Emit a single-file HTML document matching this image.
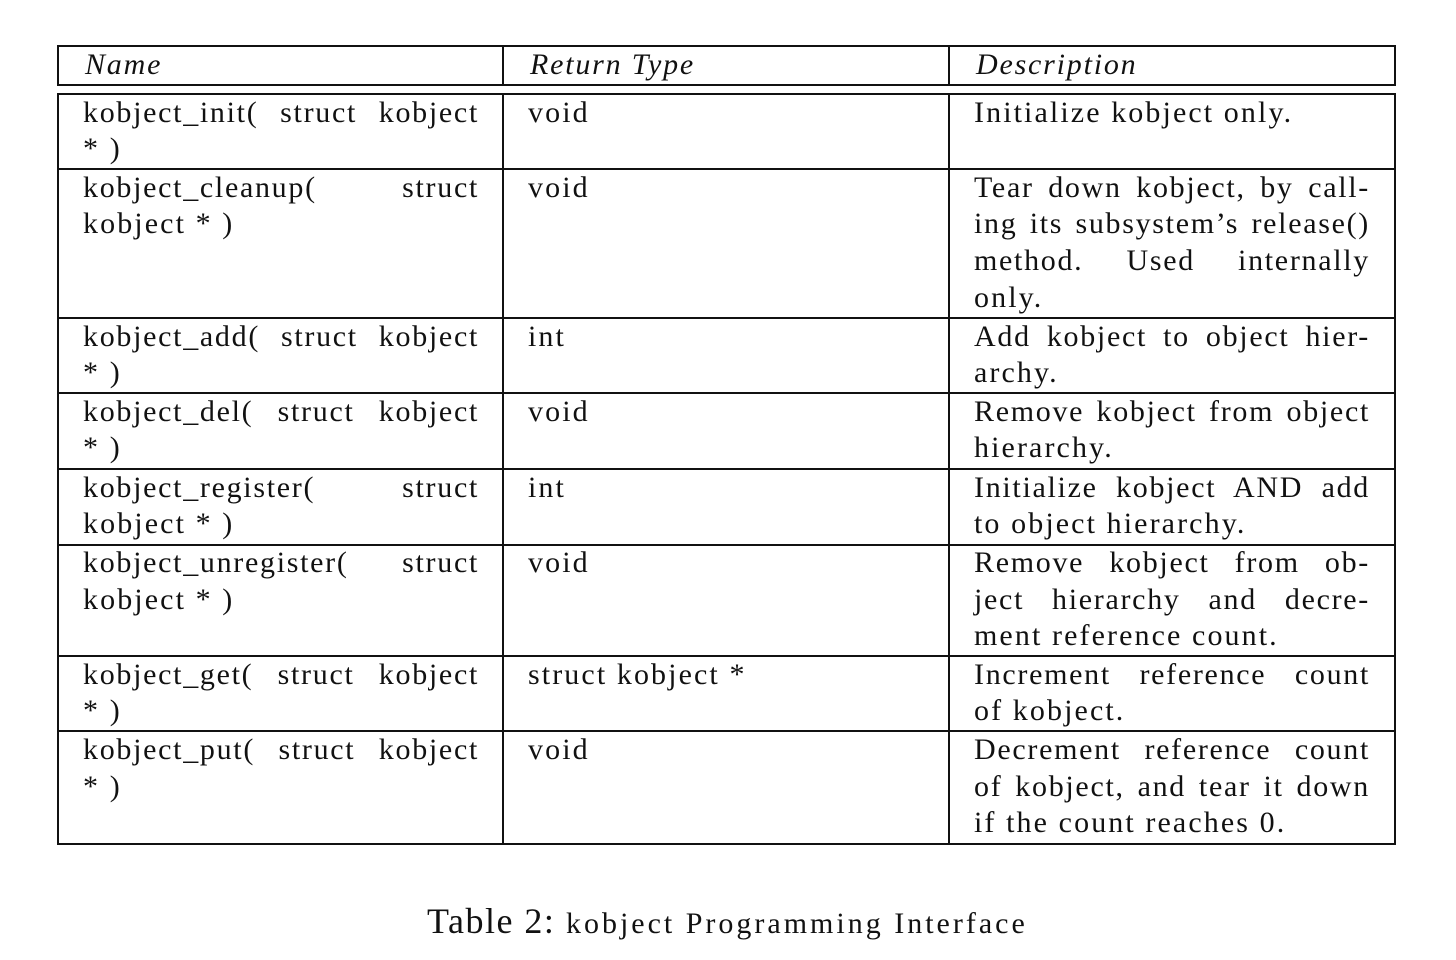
<!DOCTYPE html>
<html><head><meta charset="utf-8">
<style>
html,body{margin:0;padding:0;background:#fff;}
body{width:1456px;height:960px;position:relative;overflow:hidden;font-family:"Liberation Serif",serif;color:#111;}
.box{position:absolute;border:2px solid #111;box-sizing:border-box;}
.h{position:absolute;background:#111;height:2px;}
.v{position:absolute;background:#111;width:2px;}
.t{position:absolute;font-size:30px;line-height:36px;height:36px;white-space:nowrap;letter-spacing:2.1px;}
.j{text-align:justify;text-align-last:justify;white-space:normal;letter-spacing:1.7px;}
.hd{font-style:italic;letter-spacing:1.8px;}
</style></head>
<body>
<div class="box" style="left:57px;top:45px;width:1339px;height:41px;"></div>
<div class="v" style="left:502px;top:45px;height:41px;"></div>
<div class="v" style="left:948px;top:45px;height:41px;"></div>
<div class="t hd" style="left:85px;top:47px;">Name</div>
<div class="t hd" style="left:530px;top:47px;">Return Type</div>
<div class="t hd" style="left:976px;top:47px;">Description</div>

<div class="box" style="left:57px;top:93px;width:1339px;height:752px;"></div>
<div class="v" style="left:502px;top:93px;height:752px;"></div>
<div class="v" style="left:948px;top:93px;height:752px;"></div>
<div id="rows"></div>

<div style="position:absolute;left:427px;top:899px;white-space:nowrap;font-size:36px;line-height:44px;letter-spacing:1.5px;">Table 2: <span style="font-size:30px;letter-spacing:3px;">kobject Programming Interface</span></div>

<script>
const rowBottoms=[169,318,393,469,545,656,731];
const rows=[
 {c:[112,148],n:[["kobject_init( struct kobject",1],["* )",0]],r:"void",d:[["Initialize kobject only.",0]]},
 {c:[187,223,260,297],n:[["kobject_cleanup( struct",1],["kobject * )",0]],r:"void",d:[["Tear down kobject, by call-",1],["ing its subsystem’s release()",1],["method. Used internally",1],["only.",0]]},
 {c:[336,372],n:[["kobject_add( struct kobject",1],["* )",0]],r:"int",d:[["Add kobject to object hier-",1],["archy.",0]]},
 {c:[411,447],n:[["kobject_del( struct kobject",1],["* )",0]],r:"void",d:[["Remove kobject from object",1],["hierarchy.",0]]},
 {c:[487,523],n:[["kobject_register( struct",1],["kobject * )",0]],r:"int",d:[["Initialize kobject AND add",1],["to object hierarchy.",0]]},
 {c:[562,599,635],n:[["kobject_unregister( struct",1],["kobject * )",0]],r:"void",d:[["Remove kobject from ob-",1],["ject hierarchy and decre-",1],["ment reference count.",0]]},
 {c:[674,710],n:[["kobject_get( struct kobject",1],["* )",0]],r:"struct kobject *",d:[["Increment reference count",1],["of kobject.",0]]},
 {c:[749,786,822],n:[["kobject_put( struct kobject",1],["* )",0]],r:"void",d:[["Decrement reference count",1],["of kobject, and tear it down",1],["if the count reaches 0.",0]]}
];
const host=document.getElementById('rows');
rowBottoms.forEach((y,i)=>{
 const l=document.createElement('div');
 l.className='h';
 l.style.cssText='left:57px;width:1339px;top:'+(y-1)+'px;';
 
 
 host.appendChild(l);
});
function line(x,cy,txt,just,name){
 const d=document.createElement('div');
 d.className='t'+(just?' j':'');
 d.style.left=x+'px';d.style.top=(cy-17)+'px';d.style.width='396px';
 d.textContent=txt;
 
 
 host.appendChild(d);
}
rows.forEach((r,i)=>{
 r.n.forEach((t,k)=>line(83,r.c[k],t[0],t[1],'function-name-cell'));
 line(528,r.c[0],r.r,0,'return-type-cell');
 r.d.forEach((t,k)=>line(974,r.c[k],t[0],t[1],'description-cell'));
});
</script>
</body></html>
